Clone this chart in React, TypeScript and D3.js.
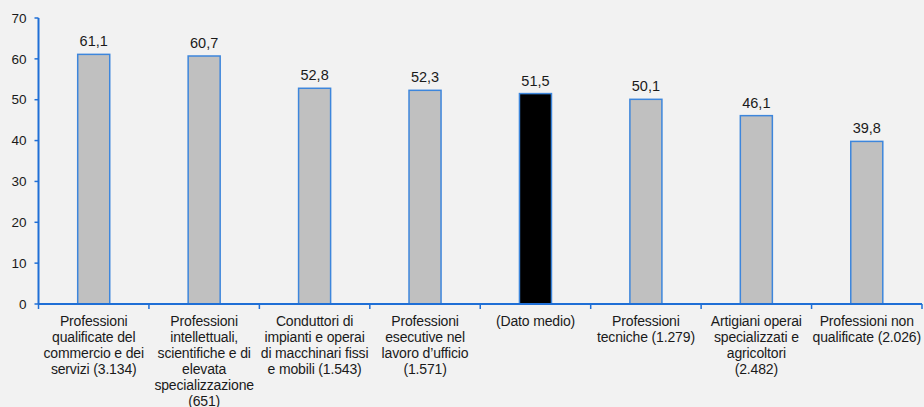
import React from "react";
import * as d3 from "d3";

const categories: string[][] = [
  ["Professioni", "qualificate del", "commercio e dei", "servizi (3.134)"],
  ["Professioni", "intellettuali,", "scientifiche e di", "elevata", "specializzazione", "(651)"],
  ["Conduttori di", "impianti e operai", "di macchinari fissi", "e mobili  (1.543)"],
  ["Professioni", "esecutive nel", "lavoro d\u2019ufficio", "(1.571)"],
  ["(Dato medio)"],
  ["Professioni", "tecniche  (1.279)"],
  ["Artigiani operai", "specializzati e", "agricoltori", "(2.482)"],
  ["Professioni non", "qualificate (2.026)"],
];
const values: number[] = [61.1, 60.7, 52.8, 52.3, 51.5, 50.1, 46.1, 39.8];
const highlightIndex = 4;
const yTicks: number[] = [0, 10, 20, 30, 40, 50, 60, 70];

const W = 924;
const H = 407;
const M = { left: 38.5, right: 2, top: 18, bottom: 103 };
const AXIS = "#1f6fd6";
const FONT = "'Liberation Sans', Arial, sans-serif";

export default function App() {
  const x = d3
    .scaleBand<number>()
    .domain(values.map((_, i) => i))
    .range([M.left, W - M.right])
    .padding(0);
  const y = d3.scaleLinear().domain([0, 70]).range([H - M.bottom, M.top]);
  const barW = x.bandwidth() * 0.29;
  const y0 = y(0);

  return (
    <svg
      width={W}
      height={H}
      style={{ position: "absolute", left: 0, top: 0, display: "block" }}
      fontFamily={FONT}
    >
      <rect x={0} y={0} width={W} height={H} fill="#f2f2f2" />
      {values.map((v, i) => {
        const cx = (x(i) as number) + x.bandwidth() / 2;
        return (
          <g key={i}>
            <rect
              x={cx - barW / 2}
              y={y(v)}
              width={barW}
              height={y0 - y(v)}
              fill={i === highlightIndex ? "#000000" : "#c0c0c0"}
              stroke="#3d86dc"
              strokeWidth={1.5}
            />
            <text
              x={cx}
              y={y(v) - 8}
              textAnchor="middle"
              fontSize={14.5}
              fill="#1a1a1a"
            >
              {d3.format(".1f")(v).replace(".", ",")}
            </text>
          </g>
        );
      })}
      {/* Y axis */}
      <line x1={M.left} x2={M.left} y1={y(70)} y2={y0} stroke={AXIS} strokeWidth={2} />
      {yTicks.map((t) => (
        <g key={t}>
          <line x1={M.left - 4} x2={M.left} y1={y(t)} y2={y(t)} stroke={AXIS} strokeWidth={1.5} />
          <text
            x={M.left - 12}
            y={y(t)}
            dy="0.35em"
            textAnchor="end"
            fontSize={13.5}
            fill="#1a1a1a"
          >
            {t}
          </text>
        </g>
      ))}
      {/* X axis */}
      <line x1={M.left} x2={W - M.right} y1={y0} y2={y0} stroke={AXIS} strokeWidth={2} />
      {values.map((_, i) => (
        <line
          key={"t" + i}
          x1={(x(i) as number) + x.bandwidth()}
          x2={(x(i) as number) + x.bandwidth()}
          y1={y0}
          y2={y0 + 5}
          stroke={AXIS}
          strokeWidth={1.5}
        />
      ))}
      <line x1={M.left} x2={M.left} y1={y0} y2={y0 + 5} stroke={AXIS} strokeWidth={1.5} />
      {categories.map((lines, i) => {
        const cx = (x(i) as number) + x.bandwidth() / 2;
        return (
          <text key={"c" + i} textAnchor="middle" fontSize={14} fill="#1a1a1a" letterSpacing={-0.15}>
            {lines.map((l, j) => (
              <tspan key={j} x={cx} y={y0 + 22 + j * 16}>
                {l}
              </tspan>
            ))}
          </text>
        );
      })}
    </svg>
  );
}
